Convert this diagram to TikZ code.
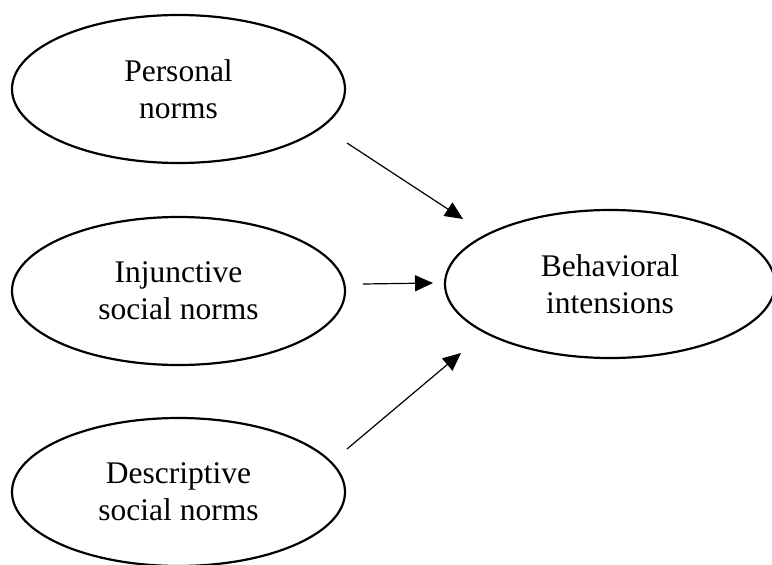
\documentclass[tikz,border=0pt]{standalone}
\usepackage{fontspec}
\setmainfont{Liberation Serif}
\usetikzlibrary{arrows.meta,shapes.geometric}
\tikzset{
  oval/.style={draw=black, line width=2.2pt, ellipse, inner sep=0pt,
    minimum width=333pt, minimum height=148pt, align=center,
    font=\fontsize{31.5}{37}\selectfont},
  link/.style={line width=1.2pt, -{Triangle[length=18pt,width=16pt]}}
}
\begin{document}
\begin{tikzpicture}[x=1pt,y=-1pt]
\useasboundingbox (0,0) rectangle (772,565);
\node[oval] (pn)  at (178.5,89)  {Personal\\norms};
\node[oval] (isn) at (178.5,291) {Injunctive\\social norms};
\node[oval] (dsn) at (178.5,492) {Descriptive\\social norms};
\node[oval, minimum width=330pt] (bi) at (610,284) {Behavioral\\intensions};
\coordinate (s1) at (347,143);
\coordinate (e1) at (463,219);
\coordinate (s2) at (363,284);
\coordinate (e2) at (433,283);
\coordinate (s3) at (347,449);
\coordinate (e3) at (461,353);
\draw[link] (s1) -- (e1);
\draw[link] (s2) -- (e2);
\draw[link] (s3) -- (e3);
\end{tikzpicture}
\end{document}
